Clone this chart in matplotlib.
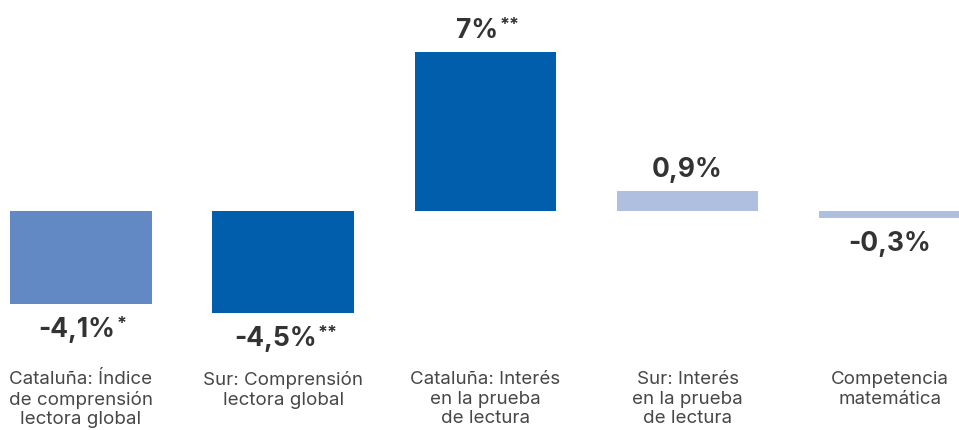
import matplotlib.pyplot as plt
import matplotlib.transforms as mtransforms

plt.rcParams['font.family'] = ['Inter', 'DejaVu Sans']

# data
categories = ["Cataluña: Índice\nde comprensión\nlectora global",
              "Sur: Comprensión\nlectora global",
              "Cataluña: Interés\nen la prueba\nde lectura",
              "Sur: Interés\nen la prueba\nde lectura",
              "Competencia\nmatemática"]
values = [-4.1, -4.5, 7.0, 0.9, -0.3]
value_labels = ["-4,1%", "-4,5%", "7%", "0,9%", "-0,3%"]
stars = ["*", "**", "**", "", ""]
colors = ["#6389C5", "#005EAD", "#005EAD", "#AFBFE0", "#AFBFE0"]

fig = plt.figure(figsize=(9.59, 4.30), dpi=100)
ax = fig.add_axes([0, 0, 1, 1])
ax.bar(range(len(values)), values, width=0.70, color=colors)
ax.set_xlim(-0.40, 4.342)
ax.set_ylim(-9.65, 9.30)
ax.axis('off')

for i, (v, lab, st) in enumerate(zip(values, value_labels, stars)):
    off = 21 if v > 0 else -26
    shift = -4 * len(st)
    t = ax.annotate(lab, xy=(i, v), xytext=(shift, off), textcoords='offset pixels',
                    ha='center', va='center', fontsize=19, fontweight='bold',
                    color='#333333')
    if st:
        ax.annotate(st, xy=(1.0, 1.05), xycoords=t, xytext=(1, 0),
                    textcoords='offset pixels', ha='left', va='top',
                    fontsize=13, fontweight='bold', color='#333333')

trans = mtransforms.blended_transform_factory(ax.transData, fig.transFigure)
for i, c in enumerate(categories):
    ax.text(i, 1 - 371 / 430, c, transform=trans, ha='center', va='top',
            fontsize=13.5, color='#474747', linespacing=1.2)

fig.savefig('out.png', dpi=100)
